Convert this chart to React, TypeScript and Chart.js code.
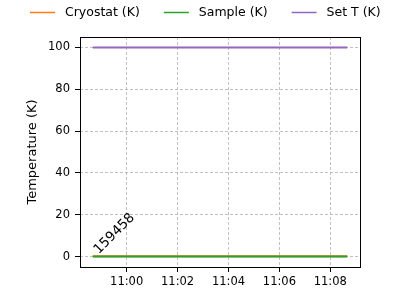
import React, { useEffect, useRef } from "react";
import { Chart, registerables } from "chart.js";

Chart.register(...registerables);

const times = [
  "10:58:40", "10:59:40", "11:00:40", "11:01:40", "11:02:40", "11:03:40",
  "11:04:40", "11:05:40", "11:06:40", "11:07:40", "11:08:40",
];
const cryostatK = [0.2, 0.2, 0.2, 0.2, 0.2, 0.2, 0.2, 0.2, 0.2, 0.2, 0.2];
const sampleK = [0, 0, 0, 0, 0, 0, 0, 0, 0, 0, 0];
const setTK = [100, 100, 100, 100, 100, 100, 100, 100, 100, 100, 100];
const seriesLabels = ["Cryostat (K)", "Sample (K)", "Set T (K)"];
const seriesColors = ["#ff7f0e", "#2ca02c", "#9467bd"];
const xTickTimes = ["11:00", "11:02", "11:04", "11:06", "11:08"];
const yTickValues = [0, 20, 40, 60, 80, 100];
const yTitle = "Temperature (K)";
const annotationText = "159458";
const annotationTime = "10:58:40";
const annotationValue = 0;

const FONT = "'DejaVu Sans', sans-serif";

function toMin(s: string): number {
  const p = s.split(":").map(Number);
  return p[0] * 60 + p[1] + (p[2] || 0) / 60;
}
function fmt(v: number): string {
  const t = Math.round(v);
  const h = Math.floor(t / 60);
  const m = t % 60;
  return `${String(h).padStart(2, "0")}:${String(m).padStart(2, "0")}`;
}

const xs = times.map(toMin);
const xMinData = Math.min(...xs);
const xMaxData = Math.max(...xs);
const xSpan = xMaxData - xMinData;
const allY = [...cryostatK, ...sampleK, ...setTK];
const yMinData = Math.min(...allY);
const yMaxData = Math.max(...allY);
const ySpan = yMaxData - yMinData;

const framePlugin = {
  id: "frameLegendAnnot",
  afterDatasetsDraw(chart: any) {
    const ctx = chart.ctx;
    const { x, y } = chart.scales;
    const px = x.getPixelForValue(toMin(annotationTime));
    const py = y.getPixelForValue(annotationValue);
    ctx.save();
    ctx.translate(px + 6, py - 2);
    ctx.rotate(-Math.PI / 4);
    ctx.font = `13.5px ${FONT}`;
    ctx.fillStyle = "#000";
    ctx.textAlign = "left";
    ctx.textBaseline = "alphabetic";
    ctx.fillText(annotationText, 0, 0);
    ctx.restore();
  },
  afterDraw(chart: any) {
    const ctx = chart.ctx;
    const a = chart.chartArea;
    ctx.save();
    ctx.strokeStyle = "#000";
    ctx.lineWidth = 1;
    ctx.setLineDash([]);
    ctx.strokeRect(Math.round(a.left) + 0.5, Math.round(a.top) + 0.5,
      Math.round(a.right - a.left), Math.round(a.bottom - a.top));
    ctx.font = `12.5px ${FONT}`;
    ctx.textBaseline = "middle";
    ctx.textAlign = "left";
    let lx = 30;
    const ly = 12.5;
    chart.data.datasets.forEach((ds: any) => {
      ctx.strokeStyle = ds.borderColor;
      ctx.lineWidth = 1.5;
      ctx.beginPath();
      ctx.moveTo(lx, ly);
      ctx.lineTo(lx + 25, ly);
      ctx.stroke();
      ctx.fillStyle = "#000";
      ctx.fillText(ds.label, lx + 35, ly);
      lx += 35 + ctx.measureText(ds.label).width + 24;
    });
    ctx.restore();
  },
};

export default function App() {
  const ref = useRef<HTMLCanvasElement | null>(null);
  useEffect(() => {
    document.body.style.margin = "0";
    const canvas = ref.current!;
    const mk = (vals: number[], i: number, order: number) => ({
      label: seriesLabels[i],
      data: xs.map((xv, k) => ({ x: xv, y: vals[k] })),
      borderColor: seriesColors[i],
      backgroundColor: seriesColors[i],
      borderWidth: 2,
      pointRadius: 0,
      tension: 0,
      order,
    });
    const gridCommon = {
      color: "#b0b0b0",
      lineWidth: 0.8,
      borderDash: [3, 2],
      tickColor: "#000",
      tickWidth: 1,
      tickLength: 5,
      tickBorderDash: [],
      drawTicks: true,
    };
    const chart = new Chart(canvas, {
      type: "line",
      data: {
        datasets: [mk(cryostatK, 0, 3), mk(sampleK, 1, 2), mk(setTK, 2, 1)],
      },
      options: {
        animation: false,
        responsive: false,
        devicePixelRatio: 1,
        layout: { padding: { top: 37, right: 40, left: 0, bottom: 0 } },
        plugins: { legend: { display: false }, tooltip: { enabled: false } },
        scales: {
          x: {
            type: "linear",
            min: xMinData - 0.05 * xSpan,
            max: xMaxData + 0.05 * xSpan,
            afterBuildTicks: (s: any) => {
              s.ticks = xTickTimes.map((t) => ({ value: toMin(t) }));
            },
            afterFit: (s: any) => {
              s.height = 33;
            },
            ticks: {
              callback: (v: any) => fmt(Number(v)),
              color: "#000",
              font: { family: FONT, size: 11.5 },
              padding: 3,
              maxRotation: 0,
              autoSkip: false,
            },
            grid: gridCommon as any,
            border: { display: false, dash: [3, 2] } as any,
          },
          y: {
            type: "linear",
            min: yMinData - 0.05 * ySpan,
            max: yMaxData + 0.05 * ySpan,
            afterBuildTicks: (s: any) => {
              s.ticks = yTickValues.map((v) => ({ value: v }));
            },
            afterFit: (s: any) => {
              s.width = 80;
            },
            ticks: {
              callback: (v: any) => String(v),
              color: "#000",
              font: { family: FONT, size: 11.5 },
              padding: 5,
              autoSkip: false,
            },
            title: {
              display: true,
              text: yTitle,
              color: "#000",
              font: { family: FONT, size: 13 },
              padding: { top: 25, bottom: 0 },
            },
            grid: gridCommon as any,
            border: { display: false, dash: [3, 2] } as any,
          },
        },
      },
      plugins: [framePlugin],
    });
    return () => chart.destroy();
  }, []);
  return (
    <div style={{ width: 400, height: 300 }}>
      <canvas ref={ref} width={400} height={300} style={{ display: "block" }} />
    </div>
  );
}
